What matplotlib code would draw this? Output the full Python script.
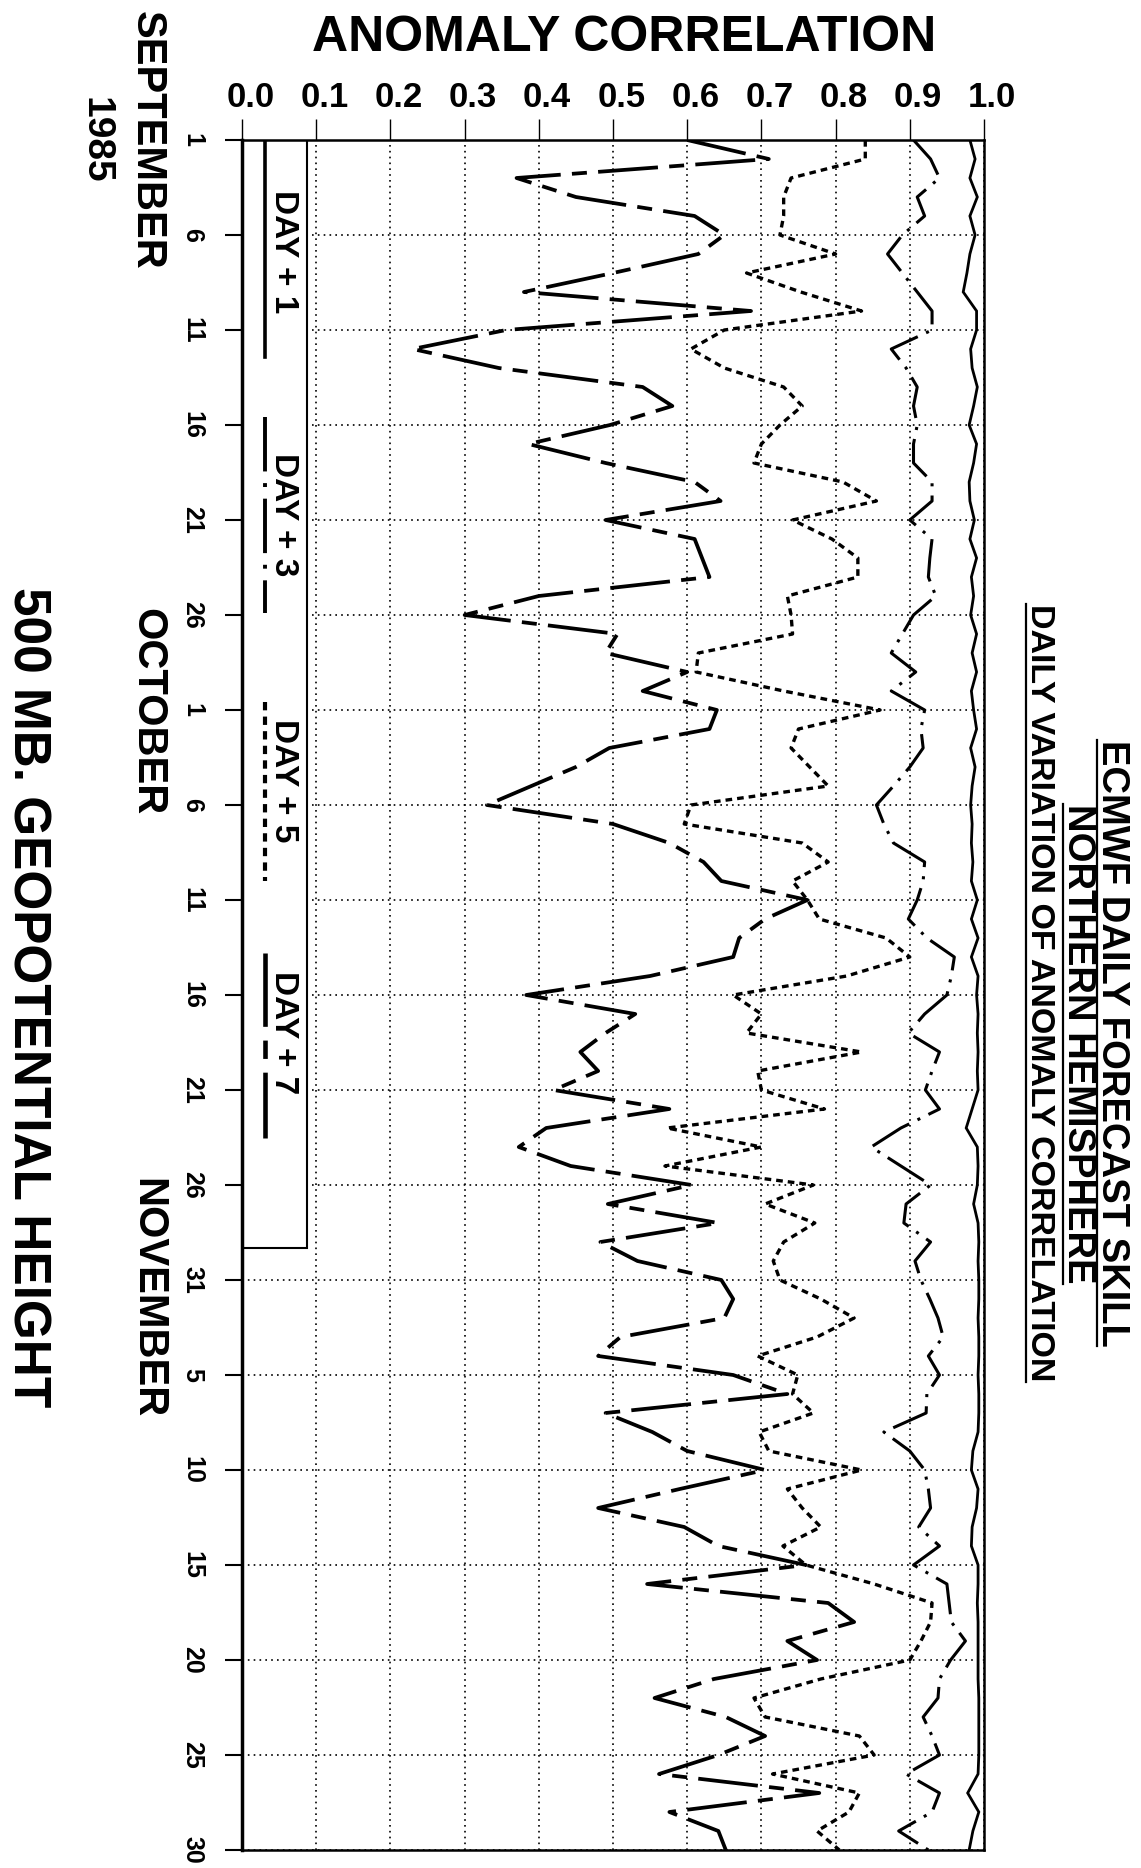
import matplotlib
matplotlib.use("Agg")
from matplotlib import pyplot as plt
from matplotlib.patches import Rectangle
import matplotlib.transforms as mtransforms

plt.rcParams['font.family'] = ['Liberation Sans', 'DejaVu Sans']
plt.rcParams['font.weight'] = 'bold'

# days since 1 September 1985 (Sep 1 .. Nov 30)
days = list(range(91))
day_ticks = list(range(0, 91, 5))
day_tick_labels = ['1', '6', '11', '16', '21', '26',
                   '1', '6', '11', '16', '21', '26', '31',
                   '5', '10', '15', '20', '25', '30']
corr_ticks = [0.0, 0.1, 0.2, 0.3, 0.4, 0.5, 0.6, 0.7, 0.8, 0.9, 1.0]
corr_tick_labels = ['0.0', '0.1', '0.2', '0.3', '0.4', '0.5',
                    '0.6', '0.7', '0.8', '0.9', '1.0']

day1 = [0.981, 0.988, 0.981, 0.991, 0.981, 0.988, 0.981, 0.977, 0.972, 0.990,
        0.990, 0.982, 0.984, 0.991, 0.986, 0.980, 0.990, 0.986, 0.980, 0.981,
        0.987, 0.981, 0.990, 0.983, 0.986, 0.982, 0.990, 0.984, 0.990, 0.983,
        0.986, 0.990, 0.982, 0.988, 0.984, 0.982, 0.984, 0.983, 0.985, 0.983,
        0.991, 0.983, 0.992, 0.983, 0.992, 0.990, 0.992, 0.991, 0.992, 0.991,
        0.992, 0.984, 0.976, 0.991, 0.992, 0.991, 0.986, 0.992, 0.993, 0.992,
        0.993, 0.993, 0.992, 0.993, 0.993, 0.992, 0.993, 0.993, 0.992, 0.985,
        0.983, 0.992, 0.990, 0.984, 0.983, 0.992, 0.992, 0.991, 0.992, 0.992,
        0.992, 0.992, 0.993, 0.993, 0.993, 0.993, 0.992, 0.978, 0.993, 0.985,
        0.980]

day3 = [0.905, 0.928, 0.94, 0.91, 0.92, 0.89, 0.87, 0.89, 0.91, 0.93,
        0.93, 0.875, 0.895, 0.91, 0.905, 0.91, 0.905, 0.905, 0.93, 0.93,
        0.90, 0.93, 0.927, 0.925, 0.935, 0.905, 0.89, 0.875, 0.908, 0.875,
        0.92, 0.915, 0.918, 0.90, 0.878, 0.855, 0.865, 0.878, 0.92, 0.918,
        0.91, 0.898, 0.923, 0.96, 0.956, 0.95, 0.92, 0.898, 0.94, 0.93,
        0.921, 0.94, 0.888, 0.848, 0.888, 0.928, 0.895, 0.892, 0.928, 0.907,
        0.915, 0.927, 0.938, 0.945, 0.925, 0.94, 0.923, 0.922, 0.865, 0.90,
        0.92, 0.925, 0.928, 0.912, 0.94, 0.905, 0.95, 0.953, 0.956, 0.975,
        0.955, 0.94, 0.938, 0.918, 0.93, 0.94, 0.895, 0.94, 0.93, 0.885,
        0.925]

day5 = [0.84, 0.84, 0.74, 0.73, 0.73, 0.725, 0.80, 0.68, 0.753, 0.835,
        0.65, 0.605, 0.65, 0.73, 0.755, 0.725, 0.70, 0.69, 0.81, 0.855,
        0.742, 0.795, 0.83, 0.83, 0.735, 0.74, 0.742, 0.615, 0.612, 0.73,
        0.86, 0.75, 0.74, 0.765, 0.79, 0.605, 0.596, 0.755, 0.79, 0.742,
        0.762, 0.778, 0.868, 0.90, 0.815, 0.662, 0.70, 0.68, 0.835, 0.695,
        0.70, 0.785, 0.573, 0.70, 0.57, 0.77, 0.705, 0.772, 0.73, 0.716,
        0.725, 0.78, 0.825, 0.775, 0.695, 0.749, 0.742, 0.77, 0.697, 0.71,
        0.835, 0.735, 0.755, 0.78, 0.729, 0.76, 0.852, 0.93, 0.928, 0.915,
        0.90, 0.78, 0.69, 0.705, 0.832, 0.852, 0.715, 0.832, 0.818, 0.775,
        0.805]

day7 = [0.60, 0.71, 0.37, 0.45, 0.61, 0.65, 0.615, 0.50, 0.38, 0.686,
        0.356, 0.23, 0.346, 0.54, 0.58, 0.496, 0.386, 0.49, 0.61, 0.645,
        0.49, 0.61, 0.62, 0.63, 0.40, 0.30, 0.506, 0.49, 0.60, 0.54,
        0.64, 0.63, 0.495, 0.45, 0.39, 0.33, 0.50, 0.576, 0.622, 0.646,
        0.762, 0.705, 0.67, 0.662, 0.55, 0.383, 0.53, 0.49, 0.456, 0.48,
        0.42, 0.576, 0.41, 0.373, 0.443, 0.606, 0.493, 0.642, 0.483, 0.533,
        0.646, 0.662, 0.65, 0.51, 0.48, 0.662, 0.735, 0.49, 0.553, 0.60,
        0.705, 0.59, 0.48, 0.596, 0.642, 0.76, 0.546, 0.79, 0.825, 0.735,
        0.775, 0.636, 0.556, 0.652, 0.705, 0.642, 0.562, 0.778, 0.576, 0.642,
        0.652]

W, H = 1141, 1868
fig = plt.figure(figsize=(W / 100, H / 100), dpi=100)
ax = fig.add_axes([242 / W, 1 - 1850 / H, (984 - 242) / W, (1850 - 140) / H])
ax.set_xlim(0, 1)
ax.set_ylim(90, 0)

# (series, style, width, legend label, legend y-range, label y)
styles = [
    (day1, '-', 2.0, 'DAY + 1', (0, 11.4), 5.9),
    (day3, (0, (14, 3, 1, 3)), 2.2, 'DAY + 3', (14.6, 24.9), 19.7),
    (day5, (0, (2.0, 1.5)), 2.4, 'DAY + 5', (29.6, 39.0), 33.7),
    (day7, (0, (16, 3, 4, 3)), 2.7, 'DAY + 7', (42.8, 52.5), 47.0),
]
for vals, ls, lw, lab, span, ty in styles:
    ax.plot(vals, days, color='black', lw=lw, ls=ls, dash_capstyle='butt',
            solid_joinstyle='miter', zorder=3)

ax.set_xticks(corr_ticks)
ax.set_xticklabels(corr_tick_labels)
ax.set_yticks(day_ticks)
ax.set_yticklabels(day_tick_labels, rotation=-90, va='center')
ax.xaxis.tick_top()
ax.tick_params(axis='x', direction='out', length=15, width=1.0, pad=4, labelsize=25)
ax.tick_params(axis='y', direction='out', length=12, width=1.5, pad=15, labelsize=18)
offset = mtransforms.ScaledTranslation(6 / 72, 0, fig.dpi_scale_trans)
for lbl in ax.get_xticklabels():
    lbl.set_transform(lbl.get_transform() + offset)

ax.grid(True, color='black', lw=1.2, ls=(0, (1, 2.5)))
for side, sp in ax.spines.items():
    sp.set_linewidth(2.5 if side == 'left' else 1.8)

# legend box
ax.add_patch(Rectangle((0, 0), 0.088, 58.3, facecolor='white', edgecolor='black',
                       lw=1.5, zorder=1.8))
for vals, ls, lw, lab, span, ty in styles:
    ax.plot([0.031, 0.031], list(span), color='black', lw=lw + 0.6, ls=ls,
            dash_capstyle='butt', zorder=3)
    ax.text(0.056, ty, lab, rotation=-90, ha='center', va='center',
            fontsize=24, zorder=3)

fig.text(624 / W, 1 - 38 / H, 'ANOMALY CORRELATION', ha='center', va='center',
         fontsize=36)


def side_text(x_base, y_mid, s, fs):
    # rotated text anchored on its baseline; letters extend to the right
    return fig.text(x_base / W, 1 - y_mid / H, s, rotation=-90,
                    rotation_mode='anchor', ha='center', va='baseline',
                    fontsize=fs)


side_text(136, 140, 'SEPTEMBER', 30)
side_text(86, 140, '1985', 28)
side_text(136, 712, 'OCTOBER', 30)
side_text(136, 1298, 'NOVEMBER', 30)
side_text(13, 997, '500 MB. GEOPOTENTIAL HEIGHT', 37)

titles = [
    (1102, 1043, 'ECMWF DAILY FORECAST SKILL', 27.5),
    (1068, 1044, 'NORTHERN HEMISPHERE', 27.5),
    (1031, 993, 'DAILY VARIATION OF ANOMALY CORRELATION', 24.5),
]
title_texts = []
for x, y, s, fs in titles:
    title_texts.append((x, side_text(x, y, s, fs)))

# underline the titles (baseline side is on the left for rotated text)
fig.canvas.draw()
renderer = fig.canvas.get_renderer()
for x, t in title_texts:
    bb = t.get_window_extent(renderer)
    xl = (x - 5) / W
    fig.add_artist(plt.Line2D([xl, xl], [bb.y0 / H, bb.y1 / H], color='black',
                              lw=1.6, transform=fig.transFigure))

fig.savefig('out.png', dpi=100)
